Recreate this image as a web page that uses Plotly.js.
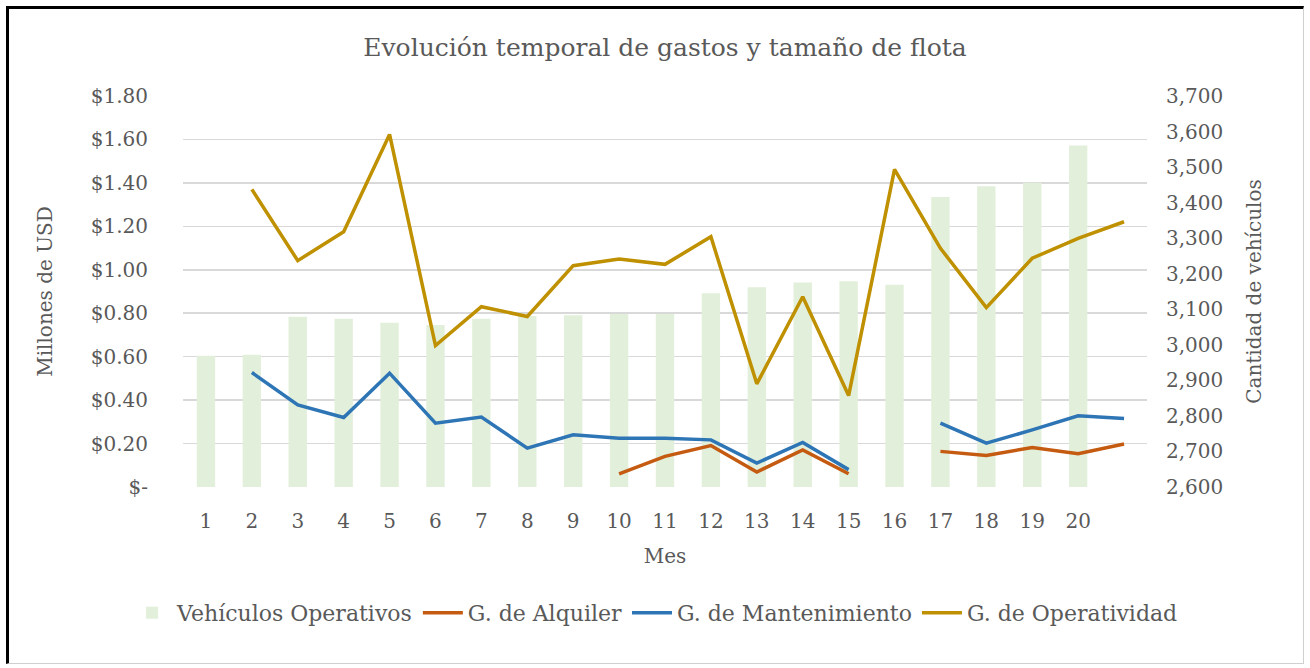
<!DOCTYPE html>
<html>
<head>
<meta charset="utf-8">
<script src="https://cdn.plot.ly/plotly-3.0.1.min.js"></script>
<style>
html,body{margin:0;padding:0;background:#fff;}
#frame{position:absolute;left:6px;top:6px;width:1298px;height:658px;border-left:3px solid #000;border-top:3px solid #000;border-right:1px solid #d0d0d0;border-bottom:1px solid #d0d0d0;box-sizing:border-box;pointer-events:none;z-index:10;}
#chart{position:absolute;left:0;top:0;width:1310px;height:668px;}
</style>
</head>
<body>
<div id="chart"></div>
<div id="frame"></div>
<script>
// Months for the bars (Vehículos Operativos)
const months = [1,2,3,4,5,6,7,8,9,10,11,12,13,14,15,16,17,18,19,20];
const vehiculos = [2969,2972,3079,3073,3062,3056,3073,3081,3083,3087,3087,3145,3162,3175,3179,3169,3416,3446,3456,3561];

// Line series are drawn one category to the right, as in the source chart
const lineMonths = [2,3,4,5,6,7,8,9,10,11,12,13,14,15,16,17,18,19,20,21];
const alquiler = [null,null,null,null,null,null,null,null,0.060,0.141,0.191,0.069,0.171,0.061,null,0.164,0.145,0.182,0.153,0.198];
const mantenimiento = [0.527,0.378,0.320,0.524,0.294,0.322,0.179,0.240,0.225,0.225,0.217,0.110,0.205,0.080,null,0.294,0.202,0.263,0.328,0.315];
const operatividad = [1.370,1.042,1.175,1.623,0.651,0.830,0.785,1.019,1.050,1.025,1.152,0.475,0.876,0.421,1.462,1.099,0.826,1.053,1.145,1.221];

const yTickVals = [0,0.2,0.4,0.6,0.8,1.0,1.2,1.4,1.6,1.8];
const yTickText = ["$-","$0.20","$0.40","$0.60","$0.80","$1.00","$1.20","$1.40","$1.60","$1.80"];

const FONT = '"DejaVu Serif", "Liberation Serif", serif';
const GREY = '#595959';

const traces = [
  {type:'bar', name:'Vehículos Operativos', x:months, y:vehiculos, yaxis:'y',
   marker:{color:'#e2efda'}, width:0.4},
  {type:'scatter', mode:'lines', name:'G. de Alquiler', x:lineMonths, y:alquiler, yaxis:'y2',
   line:{color:'#c55a11', width:3.5}, connectgaps:false},
  {type:'scatter', mode:'lines', name:'G. de Mantenimiento', x:lineMonths, y:mantenimiento, yaxis:'y2',
   line:{color:'#2e75b6', width:3.5}, connectgaps:false},
  {type:'scatter', mode:'lines', name:'G. de Operatividad', x:lineMonths, y:operatividad, yaxis:'y2',
   line:{color:'#bf9000', width:3.5}, connectgaps:false}
];

const layout = {
  width:1310, height:668,
  margin:{l:183, r:163, t:96, b:181},
  paper_bgcolor:'#fff', plot_bgcolor:'#fff',
  font:{family:FONT, color:GREY, size:20},
  showlegend:true,
  title:{text:'Evolución temporal de gastos y tamaño de flota', font:{family:FONT, size:25, color:GREY},
         x:0.5, xanchor:'center', y:0.93, yanchor:'middle', xref:'paper'},
  xaxis:{range:[0.5,21.5], tickvals:months, ticktext:months.map(String), showgrid:false,
         zeroline:false, showline:false, ticks:'outside', ticklen:16, tickcolor:'rgba(0,0,0,0)',
         tickfont:{size:20, color:GREY, family:FONT},
         title:{text:'Mes', font:{size:20, color:GREY, family:FONT}, standoff:16}},
  // bar axis (right)
  yaxis:{range:[2600,3700], dtick:100, tickformat:',', side:'right', showgrid:false,
          zeroline:false, showline:false, ticks:'outside', ticklen:14, tickcolor:'rgba(0,0,0,0)',
          tickfont:{size:20, color:GREY, family:FONT},
          title:{text:'Cantidad de vehículos', font:{size:20, color:GREY, family:FONT}, standoff:24}},
  // money axis (left), drawn on top
  yaxis2:{range:[0,1.8], tickvals:yTickVals, ticktext:yTickText, overlaying:'y', side:'left',
         showgrid:true, gridcolor:'#d9d9d9', gridwidth:1.5, layer:'below traces',
         zeroline:false, showline:false, ticks:'outside', ticklen:30, tickcolor:'rgba(0,0,0,0)',
         tickfont:{size:20, color:GREY, family:FONT},
         title:{text:'Millones de USD', font:{size:20, color:GREY, family:FONT}, standoff:32}},
  legend:{orientation:'h', x:-0.058, xanchor:'left', y:-0.322, yanchor:'middle',
          font:{size:22, color:GREY, family:FONT}, itemwidth:40, traceorder:'normal', bgcolor:'rgba(0,0,0,0)'},
  bargap:0.6
};

Plotly.newPlot('chart', traces, layout, {displayModeBar:false, staticPlot:true});
</script>
</body>
</html>
